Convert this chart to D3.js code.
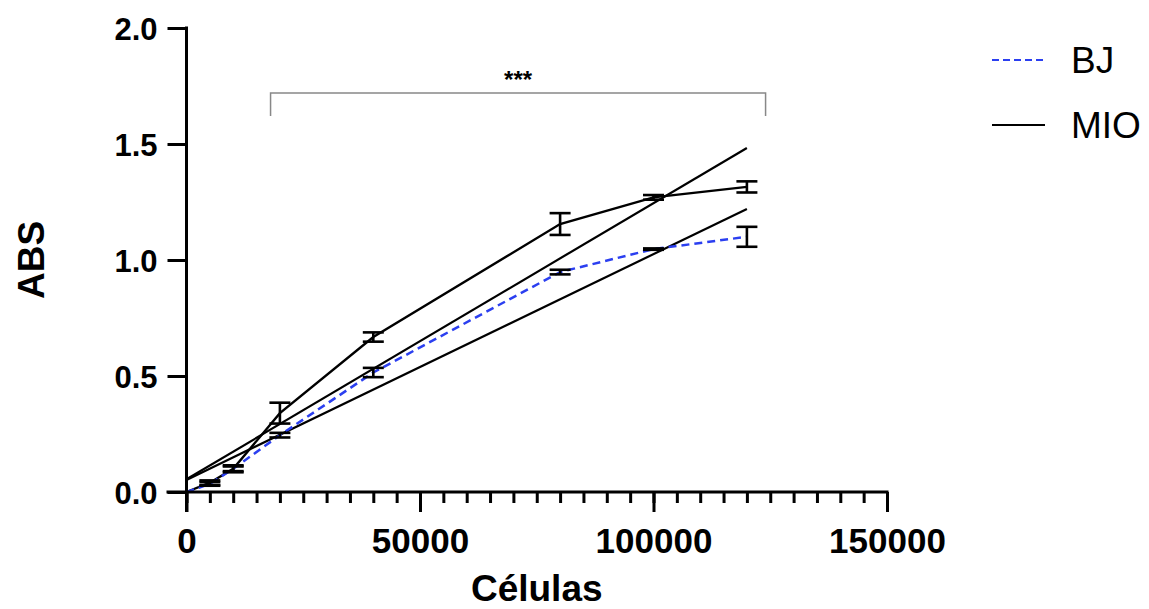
<!DOCTYPE html>
<html>
<head>
<meta charset="utf-8">
<script src="https://cdn.jsdelivr.net/npm/d3@7"></script>
<style>
  body { margin: 0; background: #fff; }
  svg { font-family: "Liberation Sans", Arial, Helvetica, sans-serif; }
</style>
</head>
<body>
<div id="chart"></div>
<script>
// cell counts on the x axis
var cells = [0, 5000, 10000, 20000, 40000, 80000, 100000, 120000];

// mean absorbance and error
var bjValues  = [0, 0.035, 0.10, 0.245, 0.515, 0.948, 1.047, 1.10];
var bjErrors  = [0, 0.008, 0.01, 0.01, 0.02, 0.01, 0.003, 0.043];
var mioValues = [0, 0.04, 0.10, 0.34, 0.668, 1.155, 1.27, 1.315];
var mioErrors = [0, 0.01, 0.015, 0.045, 0.02, 0.047, 0.01, 0.024];

// linear fits, drawn as straight lines (start and end points)
var fitMIO = [[0, 0.055], [120000, 1.483]];
var fitBJ  = [[0, 0.052], [120000, 1.22]];

// axis ticks
var xTicks = [0, 50000, 100000, 150000];
var yTicks = [0, 0.5, 1.0, 1.5, 2.0];

// significance bracket
var bracket = [18000, 124000];
var bracketLabel = "***";

var svgWidth = 1149, svgHeight = 609;

var svg = d3.select("#chart")
  .append("svg")
    .attr("width", svgWidth)
    .attr("height", svgHeight);

var x = d3.scaleLinear().domain([0, 150000]).range([186.5, 887]);
var y = d3.scaleLinear().domain([0, 2]).range([492, 28]);

var bj = cells.map(function(c, i) { return {x: c, y: bjValues[i], e: bjErrors[i]}; });
var mio = cells.map(function(c, i) { return {x: c, y: mioValues[i], e: mioErrors[i]}; });

var line = d3.line()
  .x(function(d) { return x(d[0] !== undefined ? d[0] : d.x); })
  .y(function(d) { return y(d[1] !== undefined ? d[1] : d.y); });

// regression lines
[fitMIO, fitBJ].forEach(function(f) {
  svg.append("path")
    .attr("d", line(f))
    .attr("fill", "none")
    .attr("stroke", "#000")
    .attr("stroke-width", 2.2);
});

// MIO data line
svg.append("path")
  .attr("d", line(mio))
  .attr("fill", "none")
  .attr("stroke", "#000")
  .attr("stroke-width", 2.4);

// BJ data line
svg.append("path")
  .attr("d", line(bj))
  .attr("fill", "none")
  .attr("stroke", "#2b3ff0")
  .attr("stroke-width", 2.5)
  .attr("stroke-dasharray", "8,5");

// error bars
function errorBars(data) {
  var g = svg.append("g")
    .attr("stroke", "#000")
    .attr("stroke-width", 2.6);
  data.filter(function(d) { return d.x > 0; }).forEach(function(d) {
    var cx = x(d.x);
    g.append("line")
      .attr("x1", cx).attr("x2", cx)
      .attr("y1", y(d.y - d.e)).attr("y2", y(d.y + d.e));
    [d.y - d.e, d.y + d.e].forEach(function(v) {
      g.append("line")
        .attr("x1", cx - 10.5).attr("x2", cx + 10.5)
        .attr("y1", y(v)).attr("y2", y(v));
    });
  });
}
errorBars(mio);
errorBars(bj);

// axes
var xAxis = svg.append("g")
  .attr("transform", "translate(0," + y(0) + ")");

xAxis.append("g")
  .call(d3.axisBottom(x).tickValues(d3.range(0, 150001, 5000)).tickSize(11).tickFormat(""))
  .call(function(g) { g.select(".domain").remove(); })
  .selectAll("line").attr("stroke-width", 3);

xAxis.append("g")
  .call(d3.axisBottom(x).tickValues(xTicks).tickSize(20).tickFormat(d3.format("d")))
  .call(function(g) { g.select(".domain").remove(); })
  .call(function(g) {
    g.selectAll("line").attr("stroke-width", 3);
    g.selectAll("text")
      .attr("font-size", 35)
      .attr("font-weight", "bold")
      .attr("fill", "#000")
      .attr("dy", 0)
      .attr("y", 61);
  });

xAxis.append("line")
  .attr("x1", x(0) - 20).attr("x2", x(150000) + 1.5)
  .attr("stroke", "#000")
  .attr("stroke-width", 3);

var yAxis = svg.append("g")
  .attr("transform", "translate(" + x(0) + ",0)");

yAxis.call(d3.axisLeft(y).tickValues(yTicks).tickSize(19).tickPadding(10).tickFormat(d3.format(".1f")))
  .call(function(g) {
    g.select(".domain").remove();
    g.selectAll("line").attr("stroke-width", 3);
    g.selectAll("text")
      .attr("font-size", 31)
      .attr("font-weight", "bold")
      .attr("fill", "#000")
      .attr("dy", 11);
  });

yAxis.append("line")
  .attr("y1", y(2) - 1.5).attr("y2", y(0) + 20)
  .attr("stroke", "#000")
  .attr("stroke-width", 3);

// axis titles
svg.append("text")
  .attr("x", (x(0) + x(150000)) / 2)
  .attr("y", 601)
  .attr("text-anchor", "middle")
  .attr("font-size", 37)
  .attr("font-weight", "bold")
  .text("Células");

svg.append("text")
  .attr("transform", "translate(44," + y(1) + ") rotate(-90)")
  .attr("text-anchor", "middle")
  .attr("font-size", 37)
  .attr("font-weight", "bold")
  .text("ABS");

// significance bracket
svg.append("path")
  .attr("d", "M" + x(bracket[0]) + "," + 116 + "V" + 93 + "H" + x(bracket[1]) + "V" + 116)
  .attr("fill", "none")
  .attr("stroke", "#888")
  .attr("stroke-width", 1.5);

svg.append("text")
  .attr("x", (x(bracket[0]) + x(bracket[1])) / 2)
  .attr("y", 88)
  .attr("text-anchor", "middle")
  .attr("font-size", 24)
  .attr("font-weight", "bold")
  .text(bracketLabel);

// legend
var legend = [
  {name: "BJ", color: "#2b3ff0", dash: "7,4", y: 60},
  {name: "MIO", color: "#000", dash: null, y: 125}
];
legend.forEach(function(l) {
  svg.append("line")
    .attr("x1", 992).attr("x2", 1045)
    .attr("y1", l.y).attr("y2", l.y)
    .attr("stroke", l.color)
    .attr("stroke-width", 2.2)
    .attr("stroke-dasharray", l.dash);
  svg.append("text")
    .attr("x", 1071)
    .attr("y", l.y + 13)
    .attr("font-size", 37)
    .text(l.name);
});
</script>
</body>
</html>
